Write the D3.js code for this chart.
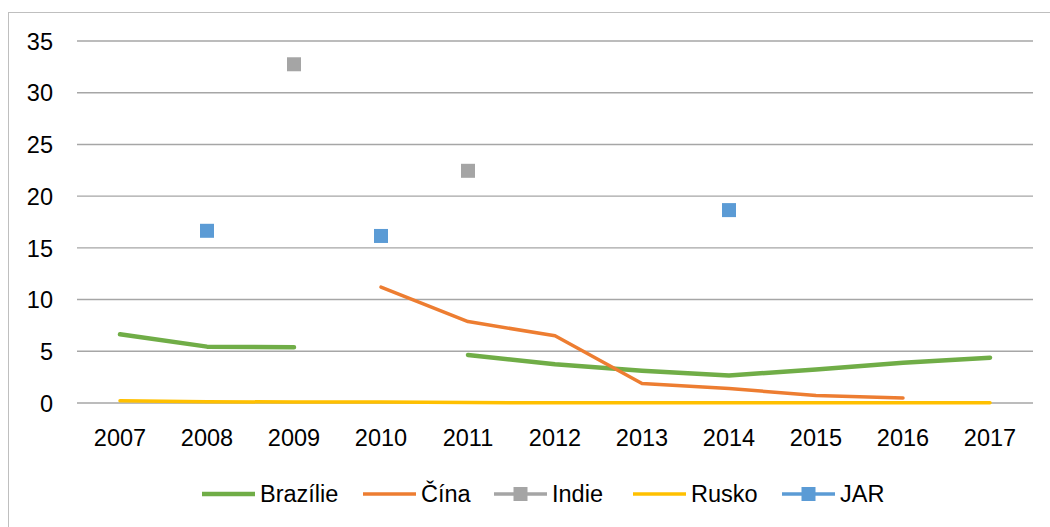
<!DOCTYPE html>
<html>
<head>
<meta charset="utf-8">
<script src="https://cdn.jsdelivr.net/npm/d3@7"></script>
<style>
  html, body { margin: 0; padding: 0; background: #ffffff; }
  svg { display: block; }
  text { font-family: "Liberation Sans", Arial, sans-serif; fill: #000; }
</style>
</head>
<body>
<svg id="chart" width="1050" height="527"></svg>
<script>
const years = ["2007","2008","2009","2010","2011","2012","2013","2014","2015","2016","2017"];
const yTicks = [0, 5, 10, 15, 20, 25, 30, 35];

const brazilie = [6.65, 5.45, 5.38, null, 4.65, 3.74, 3.12, 2.65, 3.25, 3.9, 4.38];
const cina     = [null, null, null, 11.2, 7.87, 6.5, 1.88, 1.4, 0.72, 0.48, null];
const indie    = [null, null, 32.75, null, 22.45, null, null, null, null, null, null];
const rusko    = [0.22, 0.12, 0.1, 0.1, 0.05, 0.02, 0.02, 0.02, 0.02, 0.02, 0.02];
const jar      = [null, 16.65, null, 16.15, null, null, null, 18.65, null, null, null];

const seriesNames  = ["Brazílie", "Čína", "Indie", "Rusko", "JAR"];
const seriesValues = [brazilie, cina, indie, rusko, jar];
const seriesColors = ["#70ad47", "#ed7d31", "#a5a5a5", "#ffc000", "#5b9bd5"];
const seriesWidths = [4.5, 3.5, 3.5, 3.5, 3.5];
const seriesMarkers = [false, false, true, false, true];

const svg = d3.select("#chart");
const fontSize = 23.5;

// outer frame
svg.append("rect")
  .attr("x", 8.5).attr("y", 12.5)
  .attr("width", 1200).attr("height", 700)
  .attr("fill", "none").attr("stroke", "#bfbfbf").attr("stroke-width", 1);

const x = d3.scaleBand().domain(years).range([76.5, 1033.5]);
const y = d3.scaleLinear().domain([0, 35]).range([403, 41]);

// gridlines
svg.append("g").selectAll("line").data(yTicks).join("line")
  .attr("x1", 77).attr("x2", 1033)
  .attr("y1", d => y(d)).attr("y2", d => y(d))
  .attr("stroke", "#a6a6a6").attr("stroke-width", 1.4);

// y axis labels
const yAxis = d3.axisLeft(y).tickValues(yTicks).tickSize(0).tickPadding(0);
const gy = svg.append("g").attr("transform", "translate(53,0)").call(yAxis);
gy.select(".domain").remove();
gy.selectAll("text").attr("font-size", fontSize).attr("font-family", "Liberation Sans, Arial, sans-serif")
  .attr("fill", "#000").attr("dy", "0.35em").attr("x", 0);

// x axis labels
const xAxis = d3.axisBottom(x).tickSize(0).tickPadding(0);
const gx = svg.append("g").attr("transform", "translate(0,438)").call(xAxis);
gx.select(".domain").remove();
gx.selectAll("text").attr("font-size", fontSize).attr("font-family", "Liberation Sans, Arial, sans-serif")
  .attr("fill", "#000").attr("y", 0).attr("dy", "0.35em");

const cx = i => x(years[i]) + x.bandwidth() / 2;

const line = d3.line()
  .defined(d => d.v != null)
  .x(d => cx(d.i))
  .y(d => y(d.v));

seriesValues.forEach((vals, s) => {
  const pts = vals.map((v, i) => ({ v, i }));
  svg.append("path")
    .attr("d", line(pts))
    .attr("fill", "none")
    .attr("stroke", seriesColors[s])
    .attr("stroke-width", seriesWidths[s])
    .attr("stroke-linecap", "round")
    .attr("stroke-linejoin", "round");
  if (seriesMarkers[s]) {
    svg.append("g").selectAll("rect").data(pts.filter(d => d.v != null)).join("rect")
      .attr("x", d => cx(d.i) - 7).attr("y", d => y(d.v) - 7)
      .attr("width", 14).attr("height", 14)
      .attr("fill", seriesColors[s]);
  }
});

// legend
const legendX = [202, 363, 494, 633, 782];
const ly = 494;
seriesNames.forEach((name, s) => {
  const lx = legendX[s];
  const g = svg.append("g");
  g.append("line").attr("x1", lx).attr("x2", lx + 53).attr("y1", ly).attr("y2", ly)
    .attr("stroke", seriesColors[s]).attr("stroke-width", seriesWidths[s]);
  if (seriesMarkers[s]) {
    g.append("rect").attr("x", lx + 26.5 - 7).attr("y", ly - 7).attr("width", 14).attr("height", 14)
      .attr("fill", seriesColors[s]);
  }
  g.append("text").attr("x", lx + 58).attr("y", ly).attr("dy", "0.35em")
    .attr("font-size", fontSize).text(name);
});
</script>
</body>
</html>
